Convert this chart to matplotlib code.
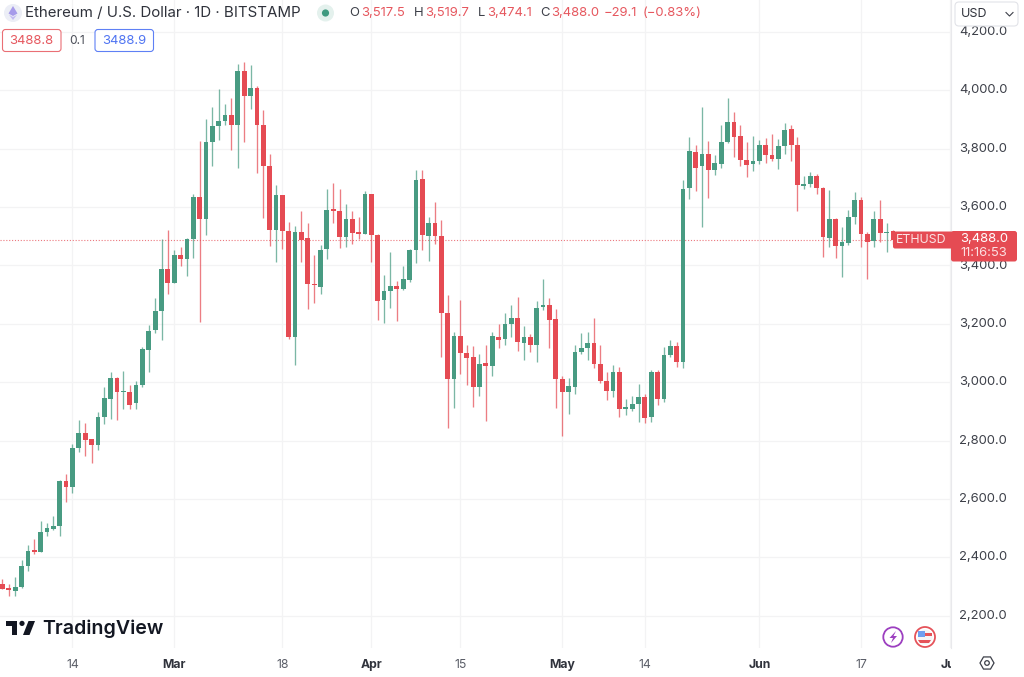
import matplotlib
matplotlib.use('Agg')
import matplotlib.pyplot as plt
from matplotlib.patches import Circle, FancyBboxPatch, Polygon, RegularPolygon
from matplotlib.transforms import Bbox, ScaledTranslation

plt.rcParams['font.family'] = ['Inter', 'Roboto', 'DejaVu Sans']

# ETH/USD daily candles
opens = [2308, 2295, 2286, 2297, 2369, 2426, 2419, 2486, 2497, 2508,
         2663, 2640, 2774, 2825, 2804, 2785, 2880, 2944, 3015, 2967,
         2968, 2927, 2992, 3111, 3179, 3243, 3387, 3341, 3436, 3422,
         3489, 3633, 3558, 3823, 3876, 3895, 3914, 3881, 4067, 3980,
         4008, 3881, 3742, 3520, 3641, 3519, 3156, 3516, 3493, 3337,
         3327, 3457, 3593, 3586, 3497, 3560, 3513, 3508, 3646, 3505,
         3280, 3311, 3328, 3319, 3350, 3454, 3695, 3502, 3546, 3502,
         3237, 3010, 3158, 3099, 3085, 2982, 3066, 3056, 3155, 3147,
         3199, 3219, 3134, 3155, 3129, 3259, 3263, 3216, 3011, 2966,
         2985, 3103, 3117, 3135, 3061, 3003, 2971, 3035, 2909, 2907,
         2926, 2949, 2880, 3034, 2944, 3092, 3124, 3069, 3665, 3789,
         3741, 3781, 3727, 3749, 3824, 3890, 3842, 3761, 3747, 3757,
         3814, 3778, 3765, 3810, 3866, 3811, 3671, 3679, 3706, 3666,
         3495, 3559, 3467, 3478, 3567, 3623, 3509, 3482, 3558, 3511,
         3517.5]
highs = [2327, 2308, 2333, 2391, 2443, 2462, 2523, 2517, 2540, 2664,
         2685, 2788, 2870, 2860, 2805, 2897, 2985, 3034, 3017, 3038,
         2991, 3005, 3122, 3196, 3290, 3489, 3521, 3454, 3463, 3493,
         3645, 3827, 3902, 3942, 4003, 3953, 3972, 4091, 4096, 4085,
         4015, 3932, 3781, 3677, 3641, 3548, 3534, 3585, 3544, 3436,
         3469, 3661, 3681, 3663, 3609, 3585, 3567, 3655, 3646, 3507,
         3367, 3445, 3345, 3398, 3458, 3728, 3727, 3565, 3618, 3554,
         3300, 3173, 3280, 3126, 3123, 3096, 3126, 3172, 3199, 3236,
         3263, 3293, 3192, 3166, 3278, 3354, 3287, 3251, 3021, 3016,
         3127, 3167, 3172, 3221, 3127, 3036, 3058, 3053, 2942, 2953,
         2994, 2960, 3042, 3042, 3122, 3145, 3137, 3693, 3840, 3813,
         3942, 3826, 3777, 3881, 3975, 3924, 3881, 3824, 3845, 3830,
         3835, 3849, 3832, 3889, 3881, 3839, 3707, 3721, 3712, 3670,
         3657, 3561, 3531, 3590, 3650, 3636, 3516, 3585, 3623, 3544,
         3519.7]
lows = [2291, 2268, 2268, 2294, 2352, 2411, 2418, 2472, 2494, 2472,
        2590, 2620, 2762, 2748, 2722, 2767, 2858, 2875, 2869, 2907,
        2907, 2907, 2985, 3036, 3167, 3144, 3302, 3341, 3399, 3365,
        3427, 3206, 3504, 3741, 3830, 3882, 3795, 3735, 3824, 3936,
        3718, 3564, 3466, 3413, 3456, 3147, 3059, 3413, 3252, 3273,
        3301, 3421, 3546, 3460, 3464, 3473, 3489, 3506, 3413, 3213,
        3204, 3253, 3211, 3316, 3344, 3410, 3453, 3414, 3475, 3087,
        2844, 2911, 3028, 2989, 2915, 2954, 2868, 3021, 3116, 3129,
        3155, 3107, 3076, 3102, 3069, 3247, 3118, 2911, 2815, 2890,
        2959, 3096, 3076, 3047, 2998, 2939, 2950, 2880, 2886, 2902,
        2864, 2859, 2864, 2923, 2933, 3086, 3053, 3049, 3626, 3654,
        3532, 3630, 3710, 3734, 3821, 3770, 3741, 3702, 3723, 3747,
        3752, 3759, 3729, 3781, 3759, 3586, 3661, 3670, 3645, 3430,
        3464, 3427, 3361, 3470, 3541, 3464, 3353, 3464, 3481, 3446,
        3474.1]
closes = [2293, 2287, 2299, 2371, 2423, 2419, 2487, 2501, 2508, 2660,
          2640, 2776, 2825, 2802, 2785, 2880, 2945, 3015, 2967, 2969,
          2921, 2992, 3113, 3176, 3244, 3387, 3339, 3436, 3422, 3489,
          3633, 3558, 3823, 3876, 3894, 3914, 3881, 4067, 3980, 4008,
          3881, 3742, 3520, 3643, 3519, 3156, 3514, 3488, 3336, 3334,
          3453, 3590, 3586, 3497, 3560, 3511, 3508, 3645, 3505, 3277,
          3311, 3328, 3318, 3352, 3454, 3694, 3505, 3544, 3502, 3238,
          3011, 3158, 3101, 3084, 2982, 3064, 3055, 3158, 3145, 3200,
          3219, 3139, 3155, 3128, 3253, 3263, 3213, 3010, 2967, 2986,
          3103, 3117, 3135, 3061, 3004, 2971, 3035, 2907, 2914, 2926,
          2949, 2878, 3035, 2944, 3092, 3123, 3069, 3662, 3791, 3735,
          3782, 3727, 3750, 3824, 3891, 3840, 3761, 3745, 3758, 3814,
          3777, 3765, 3810, 3864, 3811, 3676, 3680, 3706, 3666, 3497,
          3559, 3467, 3480, 3567, 3623, 3509, 3481, 3558, 3511, 3516,
          3488.0]

price_ticks = [2200, 2400, 2600, 2800, 3000, 3200, 3400, 3600, 3800, 4000, 4200]
date_ticks = [11, 27, 44, 58, 72, 88, 101, 119, 135, 149]
date_labels = ['14', 'Mar', '18', 'Apr', '15', 'May', '14', 'Jun', '17', 'Jul']
bold_dates = ['Mar', 'Apr', 'May', 'Jun', 'Jul']
last_price = 3488.0

GREEN = '#489b82'
RED = '#e54b53'
GRID = '#f3f3f4'
W, H = 1024, 677
PANE_R, PANE_B = 951, 648

fig = plt.figure(figsize=(W / 100, H / 100), dpi=100, facecolor='white')
ax = fig.add_axes([0, 1 - PANE_B / H, PANE_R / W, PANE_B / H])

# pixel calibration of the two axes
px_per_day = 6.36
x0 = 2.5
ax.set_xlim(-x0 / px_per_day, (PANE_R - x0) / px_per_day)
per_px = 1800 / (615.7 - 90.3)
ax.set_ylim(2200 - (PANE_B - 615.7) * per_px, 4000 + 90.3 * per_px)

ax.set_axisbelow(True)
ax.grid(True, color=GRID, lw=0.9)
ax.axhline(last_price, color=RED, lw=0.8, ls=(0, (1, 1.6)), alpha=0.75, zorder=1)

for i in range(len(opens)):
    col = GREEN if closes[i] >= opens[i] else RED
    ax.vlines(i, lows[i], highs[i], color=col, lw=0.95, alpha=0.72, zorder=2)
    ax.bar(i, max(abs(closes[i] - opens[i]), 4), bottom=min(opens[i], closes[i]),
           width=0.75, color=col, lw=0, zorder=3)

for s in ['top', 'left', 'bottom']:
    ax.spines[s].set_visible(False)
ax.spines['right'].set_color('#e9e9ec')
ax.spines['right'].set_linewidth(0.8)

ax.yaxis.tick_right()
ax.set_yticks(price_ticks)
ax.set_yticklabels(['{:,.1f}'.format(p) for p in price_ticks])
ax.tick_params(axis='y', length=0, pad=6, labelsize=9.4, labelcolor='#3d4049')
# price labels sit a little above their grid lines
nudge = ScaledTranslation(0, 1.4 / 100, fig.dpi_scale_trans)
for lab in ax.get_yticklabels():
    lab.set_transform(lab.get_transform() + nudge)
ax.set_xticks(date_ticks)
ax.set_xticklabels(date_labels)
ax.tick_params(axis='x', length=0, pad=8, labelsize=8.8, labelcolor='#5b5e68')
for lab in ax.get_xticklabels():
    if lab.get_text() in bold_dates:
        lab.set_fontweight('bold')
        lab.set_color('#30333c')
    if lab.get_text() == 'Jul':
        lab.set_clip_box(Bbox([[0, 0], [PANE_R, H]]))
        lab.set_clip_on(True)

# chart furniture, in pixel coordinates
ov = fig.add_axes([0, 0, 1, 1], facecolor='none')
ov.set_xlim(0, W)
ov.set_ylim(H, 0)
ov.axis('off')


def box(x, y, w, h, face, edge, r=3, lw=0.8, z=5):
    ov.add_patch(FancyBboxPatch((x, y), w, h, boxstyle='round,pad=0,rounding_size=%s' % r,
                                fc=face, ec=edge, lw=lw, zorder=z))


def label(x, y, s, col='#3d4049', size=9.4, ha='left', **kw):
    ov.text(x, y, s, color=col, fontsize=size, ha=ha, va='center', zorder=8, **kw)


# header
ov.add_patch(Circle((13, 13), 9, fc='#eceef6', ec='none'))
ov.add_patch(Polygon([(13, 6), (17.5, 13.5), (13, 16), (8.5, 13.5)], fc='#a79bea', ec='none'))
ov.add_patch(Polygon([(13, 17), (17, 14.8), (13, 20), (9, 14.8)], fc='#c4bbf2', ec='none'))
label(25, 13, 'Ethereum / U.S. Dollar · 1D · BITSTAMP', '#2f323b', 10.85)
ov.add_patch(Circle((325.5, 13), 8.5, fc='#e4f1ed', ec='none'))
ov.add_patch(Circle((325.5, 13), 3.6, fc='#3f9a80', ec='none'))

TXT_RED = '#e6575e'
label(349, 13, 'O', '#3d4049')
label(361, 13, '3,517.5', TXT_RED)
label(414, 13, 'H', '#3d4049')
label(425, 13, '3,519.7', TXT_RED)
label(478, 13, 'L', '#3d4049')
label(487, 13, '3,474.1', TXT_RED)
label(540, 13, 'C', '#3d4049')
label(551, 13, '3,488.0', TXT_RED)
label(604, 13, '−29.1', TXT_RED)
label(643, 13, '(−0.83%)', TXT_RED)

box(2.5, 29.5, 58.5, 22, 'white', '#ea6f75')
label(31.7, 41, '3488.8', TXT_RED, ha='center')
label(77.5, 41, '0.1', '#4a4d57', 8.6, ha='center')
box(95, 29.5, 58.5, 22, 'white', '#5f80f5')
label(124, 41, '3488.9', '#4f74f2', ha='center')

# currency button
box(955, 2, 63, 24, 'white', '#e2e3e8', r=4)
label(961, 14, 'USD', '#2f323b', 9)
ov.plot([1006, 1009.5, 1013], [12.5, 16, 12.5], color='#3d4049', lw=0.8, zorder=8)

# last price tags
box(893, 231.5, 60, 17, RED, 'none', r=2)
label(921.5, 240, 'ETHUSD', '#fbe3e4', 8.9, ha='center')
box(951, 231, 66, 30.5, RED, 'none', r=2.5, z=6)
label(960, 239.5, '3,488.0', 'white')
label(960, 253, '11:16:53', '#fbdfe1')

# logo
LOGO = '#131722'
ov.add_patch(Polygon([(6, 621), (17, 621), (17, 635), (11.7, 635), (11.7, 625.5), (6, 625.5)],
                     fc=LOGO, ec='none'))
ov.add_patch(Circle((22, 623.4), 2.6, fc=LOGO, ec='none'))
ov.add_patch(Polygon([(28.5, 621), (35, 621), (29.5, 635), (23, 635)], fc=LOGO, ec='none'))
label(42, 629, 'TradingView', LOGO, 14.1, fontweight='semibold')

# small round badges
ov.add_patch(Circle((893, 637), 9.7, fc='white', ec='#9c3fc0', lw=1.3))
ov.add_patch(Polygon([(896, 631), (889.5, 638), (893, 638), (891, 643), (897, 636), (893.5, 636)],
                     fc='#9c3fc0', ec='none'))
ov.add_patch(Circle((925, 637), 10, fc='white', ec='#e5535a', lw=1.3))
ov.add_patch(Circle((925, 637), 7.5, fc='#f4f4f6', ec='none'))
ov.add_patch(Polygon([(918, 633), (932, 633), (932, 635.5), (918, 635.5)], fc='#e5535a', ec='none'))
ov.add_patch(Polygon([(918, 640), (931, 640), (929, 643), (920, 643)], fc='#e5535a', ec='none'))
ov.add_patch(Polygon([(918, 631), (925, 631), (925, 637), (918, 637)], fc='#6f9ef0', ec='none'))

# settings gear
ov.add_patch(RegularPolygon((987, 663), 6, radius=7, orientation=0.5236, fc='white',
                            ec='#3d4049', lw=0.9))
ov.add_patch(Circle((987, 663), 2.3, fc='white', ec='#3d4049', lw=0.9))

fig.savefig('out.png', dpi=100)
